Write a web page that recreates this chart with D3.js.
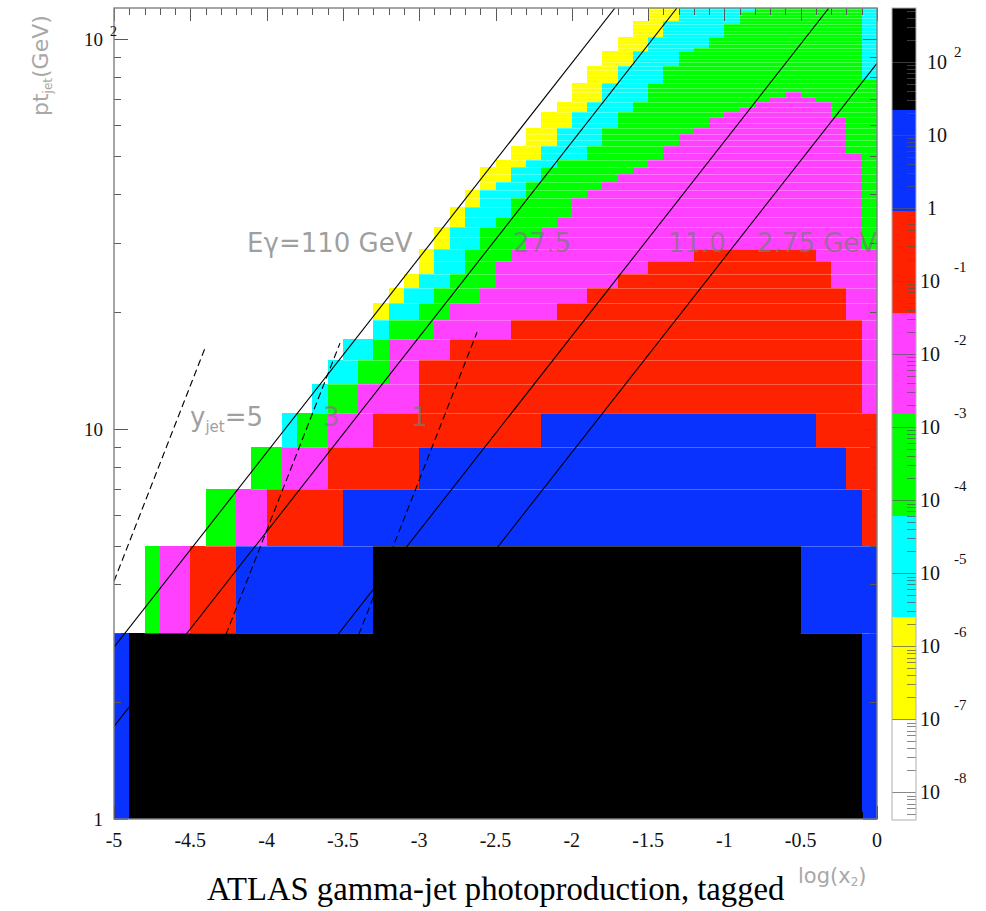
<!DOCTYPE html>
<html>
<head>
<meta charset="utf-8">
<script src="https://cdn.jsdelivr.net/npm/d3@7/dist/d3.min.js"></script>
<style>
  body { margin: 0; background: #fff; }
</style>
</head>
<body>
<svg id="chart" width="986" height="911"></svg>
<script>
// ---------------------------------------------------------------
// Binning of the map: log10(x2) in 0.1 steps, pt_jet in 2 GeV steps
// ---------------------------------------------------------------
const logX2Range = [-5, 0];
const logX2BinWidth = 0.1;
const ptRange = [1, 120];
const ptBinStart = 1;
const ptBinWidth = 2;

// Representative cross-section per colour level (level 0 = empty bin)
const levelValues = [0, 3e-7, 1.5e-5, 3e-4, 6e-3, 0.15, 5, 100];

// Colour bar: log10 edges of the eight colour bands and their colours
const zBandEdges = [-8.38, -6.99, -5.60, -4.21, -2.82, -1.43, -0.04, 1.35, 2.74];
const zBandColors = ["#ffffff", "#ffff00", "#00ffff", "#00ff00", "#ff40ff", "#ff2200", "#0a32ff", "#000000"];
const zDecades = [2, 1, 0, -1, -2, -3, -4, -5, -6, -7, -8];

// Map content, one entry per pt bin (bottom bin first).
// Each run is [level, first log(x2) bin]; a run lasts until the next one.
const rowRuns = [
  [[6,0],[7,1],[6,49]],                                   //   1-3
  [[0,0],[3,2],[4,3],[5,5],[6,8],[7,17],[6,45]],          //   3-5
  [[0,0],[3,6],[4,8],[5,10],[6,15],[5,49]],               //   5-7
  [[0,0],[3,9],[4,11],[5,14],[6,20],[5,48]],              //   7-9
  [[0,0],[2,11],[3,12],[4,14],[5,17],[6,28],[5,46]],      //   9-11
  [[0,0],[2,13],[3,14],[4,16],[5,20],[4,49]],             //  11-13
  [[0,0],[2,14],[3,16],[4,18],[5,20],[4,49]],             //  13-15
  [[0,0],[2,15],[3,17],[4,18],[5,22],[4,49]],             //  15-17
  [[0,0],[2,17],[3,18],[4,21],[5,26],[4,49]],             //  17-19
  [[0,0],[1,17],[2,18],[3,20],[4,22],[5,29],[4,48]],      //  19-21
  [[0,0],[1,18],[2,19],[3,21],[4,24],[5,31],[4,48]],      //  21-23
  [[0,0],[1,19],[2,20],[3,22],[4,25],[5,33],[4,47]],      //  23-25
  [[0,0],[1,20],[2,21],[3,23],[4,25],[5,35],[4,47]],      //  25-27
  [[0,0],[1,20],[2,21],[3,23],[4,26],[5,38],[4,46]],      //  27-29
  [[0,0],[1,21],[2,22],[3,24],[4,27],[3,49]],             //  29-31
  [[0,0],[1,21],[2,22],[3,24],[4,28],[3,49]],             //  31-33
  [[0,0],[1,22],[2,23],[3,25],[4,29],[3,49]],             //  33-35
  [[0,0],[1,22],[2,23],[3,26],[4,30],[3,49]],             //  35-37
  [[0,0],[1,23],[2,24],[3,26],[4,30],[3,49]],             //  37-39
  [[0,0],[1,23],[2,24],[3,27],[4,31],[3,49]],             //  39-41
  [[0,0],[1,24],[2,25],[3,27],[4,32],[3,49]],             //  41-43
  [[0,0],[1,24],[2,26],[3,28],[4,33],[3,49]],             //  43-45
  [[0,0],[1,24],[2,26],[3,28],[4,34],[3,49]],             //  45-47
  [[0,0],[1,25],[2,27],[3,29],[4,35],[3,49]],             //  47-49
  [[0,0],[1,26],[2,28],[3,31],[4,36],[3,49]],             //  49-51
  [[0,0],[1,26],[2,28],[3,31],[4,36],[3,48]],             //  51-53
  [[0,0],[1,27],[2,29],[3,32],[4,37],[3,48]],             //  53-55
  [[0,0],[1,27],[2,29],[3,32],[4,37],[3,48]],             //  55-57
  [[0,0],[1,27],[2,29],[3,32],[4,38],[3,48]],             //  57-59
  [[0,0],[1,28],[2,30],[3,33],[4,39],[3,48]],             //  59-61
  [[0,0],[1,28],[2,30],[3,33],[4,39],[3,48]],             //  61-63
  [[0,0],[1,28],[2,30],[3,33],[4,40],[3,47]],             //  63-65
  [[0,0],[1,29],[2,31],[3,34],[4,41],[3,47]],             //  65-67
  [[0,0],[1,29],[2,31],[3,34],[4,42],[3,47]],             //  67-69
  [[0,0],[1,30],[2,32],[3,35],[4,43],[3,46]],             //  69-71
  [[0,0],[1,30],[2,32],[3,35],[4,44],[3,45]],             //  71-73
  [[0,0],[1,30],[2,32],[3,35]],                           //  73-75
  [[0,0],[1,30],[2,32],[3,35]],                           //  75-77
  [[0,0],[1,31],[2,33],[3,36]],                           //  77-79
  [[0,0],[1,31],[2,33],[3,36],[2,49]],                    //  79-81
  [[0,0],[1,31],[2,33],[3,36],[2,49]],                    //  81-83
  [[0,0],[1,31],[2,33],[3,36],[2,49]],                    //  83-85
  [[0,0],[1,32],[2,34],[3,37],[2,49]],                    //  85-87
  [[0,0],[1,32],[2,34],[3,37],[2,49]],                    //  87-89
  [[0,0],[1,32],[2,34],[3,37],[2,49]],                    //  89-91
  [[0,0],[1,32],[2,34],[3,37],[2,49]],                    //  91-93
  [[0,0],[1,33],[2,35],[3,38],[2,49]],                    //  93-95
  [[0,0],[1,33],[2,35],[3,39],[2,49]],                    //  95-97
  [[0,0],[1,33],[2,35],[3,39],[2,49]],                    //  97-99
  [[0,0],[1,33],[2,35],[3,39],[2,49]],                    //  99-101
  [[0,0],[1,34],[2,36],[3,40],[2,49]],                    // 101-103
  [[0,0],[1,34],[2,36],[3,40],[2,49]],                    // 103-105
  [[0,0],[1,34],[2,36],[3,40],[2,49]],                    // 105-107
  [[0,0],[1,34],[2,36],[3,40],[2,49]],                    // 107-109
  [[0,0],[1,34],[2,36],[3,41],[2,49]],                    // 109-111
  [[0,0],[1,35],[2,37],[3,41],[2,49]],                    // 111-113
  [[0,0],[1,35],[2,37],[3,41],[2,49]],                    // 113-115
  [[0,0],[1,35],[2,37],[3,41],[2,49]],                    // 115-117
  [[0,0],[1,35],[2,37],[3,42],[2,49]],                    // 117-119
  [[0,0],[1,35],[2,37],[3,42],[2,49]]                     // 119-121
];

// Fixed photon-energy curves (solid) and fixed jet-rapidity curves (dashed)
const energyCurves = [
  { name: "110",  logX2: [-5.000, -1.717], pt: [2.756, 120] },
  { name: "27.5", logX2: [-5.000, -1.311], pt: [1.727, 120] },
  { name: "11.0", logX2: [-4.480, -0.315], pt: [1.000, 120] },
  { name: "2.75", logX2: [-3.883,  0.000], pt: [1.000, 86.6] }
];
const rapidityCurves = [
  { yjet: 5, logX2: [-5.000, -4.404], pt: [4.07, 16.1] },
  { yjet: 3, logX2: [-4.739, -3.519], pt: [1.00, 16.6] },
  { yjet: 1, logX2: [-3.869, -2.621], pt: [1.00, 17.7] }
];

// Curve labels: text parts ([text, isSubscript]), log(x2), pt
const curveLabels = [
  { parts: [["Eγ=110 GeV", 0]], logX2: -4.128, pt: 27.4 },
  { parts: [["27.5", 0]],       logX2: -2.385, pt: 27.4 },
  { parts: [["11.0", 0]],       logX2: -1.370, pt: 27.4 },
  { parts: [["2.75 GeV", 0]],   logX2: -0.786, pt: 27.4 },
  { parts: [["y", 0], ["jet", 1], ["=5", 0]], logX2: -4.502, pt: 9.83 },
  { parts: [["3", 0]],          logX2: -3.630, pt: 9.83 },
  { parts: [["1", 0]],          logX2: -3.054, pt: 9.83 }
];

const xTickLabels = ["-5", "-4.5", "-4", "-3.5", "-3", "-2.5", "-2", "-1.5", "-1", "-0.5", "0"];
const xTickValues = [-5, -4.5, -4, -3.5, -3, -2.5, -2, -1.5, -1, -0.5, 0];

// ---------------------------------------------------------------
const svg = d3.select("#chart");
const M = { left: 114, right: 877, top: 8, bottom: 819 };

const x = d3.scaleLinear().domain(logX2Range).range([M.left, M.right]);
const y = d3.scaleLog().domain(ptRange).range([M.bottom, M.top]);

const colorOf = v => {
  const l = Math.log10(v);
  for (let i = 0; i < zBandColors.length; i++) {
    if (l < zBandEdges[i + 1]) return zBandColors[i];
  }
  return zBandColors[zBandColors.length - 1];
};

const nXBins = Math.round((logX2Range[1] - logX2Range[0]) / logX2BinWidth);
const xEdge = i => logX2Range[0] + i * logX2BinWidth;

// Expand run lists into cells
const cells = [];
rowRuns.forEach((runs, r) => {
  const ptLo = ptBinStart + r * ptBinWidth;
  const ptHi = Math.min(ptLo + ptBinWidth, ptRange[1]);
  runs.forEach((run, k) => {
    const end = k + 1 < runs.length ? runs[k + 1][1] : nXBins;
    for (let c = run[1]; c < end; c++) {
      cells.push({ row: r, col: c, ptLo, ptHi, level: run[0], value: levelValues[run[0]] });
    }
  });
});

svg.append("defs").append("clipPath").attr("id", "plotClip")
  .append("rect").attr("x", M.left).attr("y", M.top)
  .attr("width", M.right - M.left).attr("height", M.bottom - M.top);

const plotG = svg.append("g").attr("clip-path", "url(#plotClip)");

plotG.append("g").attr("shape-rendering", "crispEdges")
  .selectAll("rect").data(cells.filter(d => d.value > 0)).join("rect")
  .attr("x", d => x(xEdge(d.col)))
  .attr("width", d => x(xEdge(d.col + 1)) - x(xEdge(d.col)))
  .attr("y", d => y(d.ptHi))
  .attr("height", d => y(d.ptLo) - y(d.ptHi))
  .attr("fill", d => colorOf(d.value));

// faint bin borders between pt rows over coloured bins
const rowEdges = [];
rowRuns.forEach((runs, r) => {
  if (r === 0) return;
  const ptLo = ptBinStart + r * ptBinWidth;
  runs.forEach((run, k) => {
    if (run[0] === 0 || run[0] === 7) return;
    const end = k + 1 < runs.length ? runs[k + 1][1] : nXBins;
    rowEdges.push({ pt: ptLo, x0: xEdge(run[1]), x1: xEdge(end) });
  });
});
plotG.append("g").selectAll("line").data(rowEdges).join("line")
  .attr("x1", d => x(d.x0)).attr("x2", d => x(d.x1))
  .attr("y1", d => Math.round(y(d.pt)) + 0.5).attr("y2", d => Math.round(y(d.pt)) + 0.5)
  .attr("stroke", "#ffffff").attr("stroke-opacity", 0.28).attr("stroke-width", 1);

// curves
const curveLine = d => `M${x(d.logX2[0])},${y(d.pt[0])}L${x(d.logX2[1])},${y(d.pt[1])}`;
plotG.append("g").selectAll("path").data(energyCurves).join("path")
  .attr("d", curveLine).attr("fill", "none")
  .attr("stroke", "#000").attr("stroke-width", 1.1);
plotG.append("g").selectAll("path").data(rapidityCurves).join("path")
  .attr("d", curveLine).attr("fill", "none")
  .attr("stroke", "#000").attr("stroke-width", 1.1)
  .attr("stroke-dasharray", "7,4");

// curve labels
const lab = svg.append("g")
  .attr("font-family", "'DejaVu Sans', sans-serif").attr("font-size", 26)
  .attr("fill", "#7a7a7a").attr("fill-opacity", 0.72);
curveLabels.forEach(d => {
  const t = lab.append("text").attr("x", x(d.logX2)).attr("y", y(d.pt));
  d.parts.forEach(p => {
    if (p[1] === 1) t.append("tspan").attr("font-size", 15).attr("dy", 6).text(p[0]);
    else t.append("tspan").attr("dy", t.selectAll("tspan").size() ? -6 : 0).text(p[0]);
  });
});

// ---------------------------------------------------------------
// axes: frame and ticks on all four sides
const axG = svg.append("g").attr("stroke", "#5a5a5a").attr("stroke-width", 1);
const ptTicks = [];
[1, 10].forEach(dec => { for (let k = 1; k <= 9; k++) ptTicks.push(k * dec); });
ptTicks.push(100);
ptTicks.forEach(v => {
  const major = (v === 1 || v === 10 || v === 100);
  const len = major ? 14 : 7;
  const yy = Math.round(y(v)) + 0.5;
  axG.append("line").attr("x1", M.left).attr("x2", M.left + len).attr("y1", yy).attr("y2", yy);
  axG.append("line").attr("x1", M.right).attr("x2", M.right - len).attr("y1", yy).attr("y2", yy);
});
d3.range(0, nXBins + 1).forEach(i => {
  const v = xEdge(i);
  const major = i % 5 === 0;
  const len = major ? 13 : 7;
  const xx = Math.round(x(v)) + 0.5;
  axG.append("line").attr("x1", xx).attr("x2", xx).attr("y1", M.top).attr("y2", M.top + len);
  axG.append("line").attr("x1", xx).attr("x2", xx).attr("y1", M.bottom).attr("y2", M.bottom - len)
    .attr("stroke", "#000");
});
svg.append("rect").attr("x", M.left).attr("y", M.top)
  .attr("width", M.right - M.left).attr("height", M.bottom - M.top)
  .attr("fill", "none").attr("stroke", "#808080").attr("stroke-width", 1.4);

// tick labels
const serif = "'Liberation Serif', 'Times New Roman', serif";
svg.append("g").attr("font-family", serif).attr("font-size", 20).attr("fill", "#111")
  .attr("text-anchor", "middle")
  .selectAll("text").data(xTickValues).join("text")
  .attr("x", d => x(d)).attr("y", 847)
  .text((d, i) => xTickLabels[i]);

const yl = svg.append("g").attr("font-family", serif).attr("font-size", 19).attr("fill", "#111");
yl.append("text").attr("x", 103).attr("y", y(1) + 7).attr("text-anchor", "end").text("1");
yl.append("text").attr("x", 103).attr("y", y(10) + 7).attr("text-anchor", "end").text("10");
yl.append("text").attr("x", 103).attr("y", y(100) + 7).attr("text-anchor", "end").text("10");
yl.append("text").attr("x", 110).attr("y", y(100) - 3).attr("font-size", 14).text("2");

// axis titles
const ytitle = svg.append("text")
  .attr("transform", `translate(48,116) rotate(-90)`)
  .attr("font-family", "'DejaVu Sans', sans-serif").attr("font-size", 22).attr("fill", "#a8a8a8");
ytitle.append("tspan").text("pt");
ytitle.append("tspan").attr("font-size", 12).attr("dy", 4).text("jet");
ytitle.append("tspan").attr("dy", -4).text("(GeV)");

const xtitle = svg.append("text").attr("x", 798).attr("y", 883)
  .attr("font-family", "'DejaVu Sans', sans-serif").attr("font-size", 21).attr("fill", "#a8a8a8");
xtitle.append("tspan").text("log(x");
xtitle.append("tspan").attr("font-size", 12).attr("dy", 3).text("2");
xtitle.append("tspan").attr("dy", -3).text(")");

svg.append("text").attr("x", 207).attr("y", 900)
  .attr("font-family", serif).attr("font-size", 32.7).attr("fill", "#000")
  .text("ATLAS gamma-jet photoproduction, tagged");

// ---------------------------------------------------------------
// colour bar
const bar = { x: 892, w: 24, top: 8, bottom: 820 };
const zScale = d3.scaleLinear().domain([zBandEdges[0], zBandEdges[zBandEdges.length - 1]])
  .range([bar.bottom, bar.top]);
const barG = svg.append("g");
barG.append("g").attr("shape-rendering", "crispEdges")
  .selectAll("rect").data(zBandColors).join("rect")
  .attr("x", bar.x).attr("width", bar.w)
  .attr("y", (d, i) => zScale(zBandEdges[i + 1]))
  .attr("height", (d, i) => zScale(zBandEdges[i]) - zScale(zBandEdges[i + 1]))
  .attr("fill", d => d);
const barTicks = barG.append("g").attr("stroke", "#555").attr("stroke-opacity", 0.7).attr("stroke-width", 1);
for (let n = -9; n <= 2; n++) {
  for (let k = 1; k <= 9; k++) {
    const l = n + Math.log10(k);
    if (l <= zBandEdges[0] || l >= zBandEdges[zBandEdges.length - 1]) continue;
    const yy = Math.round(zScale(l)) + 0.5;
    const len = k === 1 ? bar.w : 9;
    barTicks.append("line").attr("x1", bar.x + bar.w - len).attr("x2", bar.x + bar.w)
      .attr("y1", yy).attr("y2", yy);
  }
}
barG.append("rect").attr("x", bar.x).attr("y", bar.top).attr("width", bar.w)
  .attr("height", bar.bottom - bar.top).attr("fill", "none")
  .attr("stroke", "#b0b0b0").attr("stroke-width", 1);

const zl = svg.append("g").attr("font-family", serif).attr("fill", "#111");
zDecades.forEach(n => {
  const yy = zScale(n);
  if (n === 0) {
    zl.append("text").attr("x", 927).attr("y", yy + 7).attr("font-size", 20).text("1");
    return;
  }
  zl.append("text").attr("x", n > 0 ? 927 : 920).attr("y", yy + 7).attr("font-size", 20).text("10");
  if (n !== 1) {
    zl.append("text").attr("x", 954).attr("y", yy + (n > 0 ? -5 : -9))
      .attr("font-size", 15).text(String(n));
  }
});
</script>
</body>
</html>
